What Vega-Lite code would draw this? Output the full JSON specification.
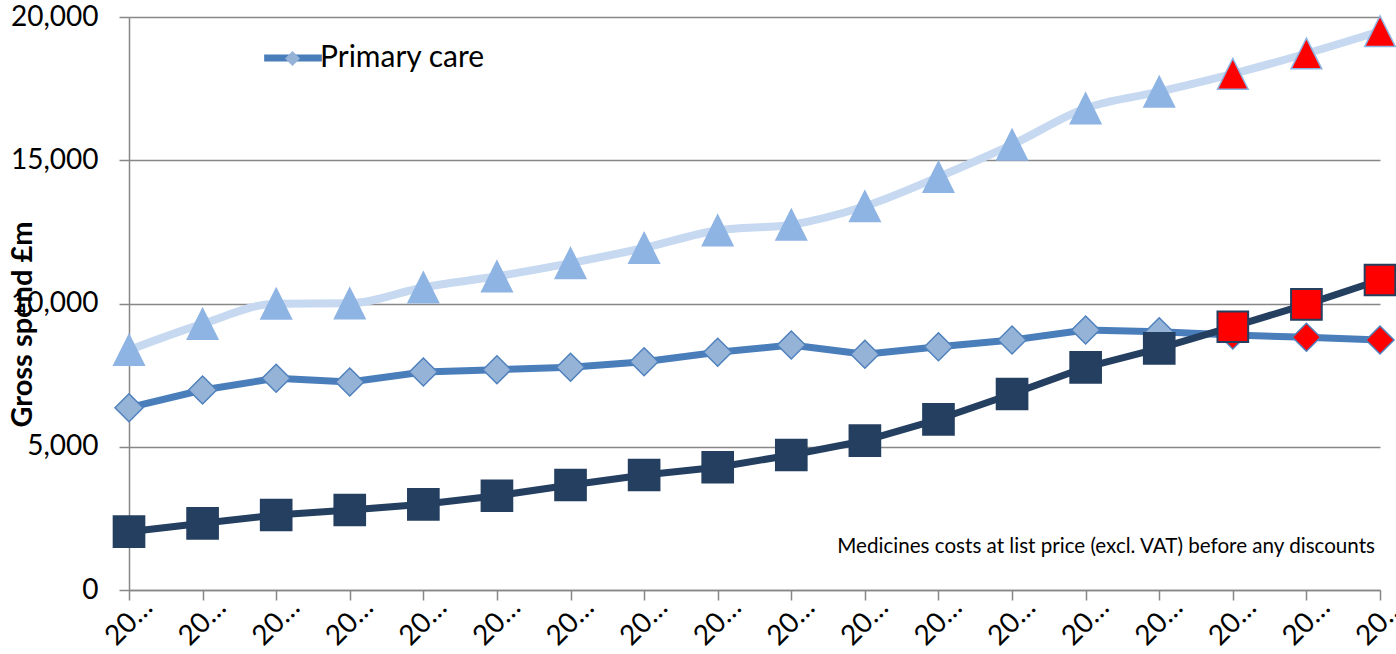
{
  "$schema": "https://vega.github.io/schema/vega-lite/v6.json",
  "width": 1251,
  "height": 573,
  "autosize": {"type": "none"},
  "padding": {"left": 129, "top": 17, "right": 16, "bottom": 64},
  "background": "white",
  "config": {
    "view": {"stroke": null},
    "font": "Lato"
  },
  "data": {
    "values": [
      {"year": "2000/01", "series": "Total", "spend": 8377, "forecast": false},
      {"year": "2001/02", "series": "Total", "spend": 9291, "forecast": false},
      {"year": "2002/03", "series": "Total", "spend": 9993, "forecast": false},
      {"year": "2003/04", "series": "Total", "spend": 10007, "forecast": false},
      {"year": "2004/05", "series": "Total", "spend": 10558, "forecast": false},
      {"year": "2005/06", "series": "Total", "spend": 10949, "forecast": false},
      {"year": "2006/07", "series": "Total", "spend": 11410, "forecast": false},
      {"year": "2007/08", "series": "Total", "spend": 11937, "forecast": false},
      {"year": "2008/09", "series": "Total", "spend": 12555, "forecast": false},
      {"year": "2009/10", "series": "Total", "spend": 12751, "forecast": false},
      {"year": "2010/11", "series": "Total", "spend": 13393, "forecast": false},
      {"year": "2011/12", "series": "Total", "spend": 14415, "forecast": false},
      {"year": "2012/13", "series": "Total", "spend": 15543, "forecast": false},
      {"year": "2013/14", "series": "Total", "spend": 16813, "forecast": false},
      {"year": "2014/15", "series": "Total", "spend": 17393, "forecast": false},
      {"year": "2015/16", "series": "Total", "spend": 18017, "forecast": true},
      {"year": "2016/17", "series": "Total", "spend": 18726, "forecast": true},
      {"year": "2017/18", "series": "Total", "spend": 19504, "forecast": true},
      {"year": "2000/01", "series": "Primary care", "spend": 6363, "forecast": false},
      {"year": "2001/02", "series": "Primary care", "spend": 6981, "forecast": false},
      {"year": "2002/03", "series": "Primary care", "spend": 7389, "forecast": false},
      {"year": "2003/04", "series": "Primary care", "spend": 7260, "forecast": false},
      {"year": "2004/05", "series": "Primary care", "spend": 7609, "forecast": false},
      {"year": "2005/06", "series": "Primary care", "spend": 7689, "forecast": false},
      {"year": "2006/07", "series": "Primary care", "spend": 7773, "forecast": false},
      {"year": "2007/08", "series": "Primary care", "spend": 7969, "forecast": false},
      {"year": "2008/09", "series": "Primary care", "spend": 8297, "forecast": false},
      {"year": "2009/10", "series": "Primary care", "spend": 8551, "forecast": false},
      {"year": "2010/11", "series": "Primary care", "spend": 8227, "forecast": false},
      {"year": "2011/12", "series": "Primary care", "spend": 8492, "forecast": false},
      {"year": "2012/13", "series": "Primary care", "spend": 8726, "forecast": false},
      {"year": "2013/14", "series": "Primary care", "spend": 9075, "forecast": false},
      {"year": "2014/15", "series": "Primary care", "spend": 9016, "forecast": false},
      {"year": "2015/16", "series": "Primary care", "spend": 8900, "forecast": true},
      {"year": "2016/17", "series": "Primary care", "spend": 8820, "forecast": true},
      {"year": "2017/18", "series": "Primary care", "spend": 8726, "forecast": true},
      {"year": "2000/01", "series": "Hospital", "spend": 2035, "forecast": false},
      {"year": "2001/02", "series": "Hospital", "spend": 2328, "forecast": false},
      {"year": "2002/03", "series": "Hospital", "spend": 2618, "forecast": false},
      {"year": "2003/04", "series": "Hospital", "spend": 2792, "forecast": false},
      {"year": "2004/05", "series": "Hospital", "spend": 2991, "forecast": false},
      {"year": "2005/06", "series": "Hospital", "spend": 3291, "forecast": false},
      {"year": "2006/07", "series": "Hospital", "spend": 3665, "forecast": false},
      {"year": "2007/08", "series": "Hospital", "spend": 4014, "forecast": false},
      {"year": "2008/09", "series": "Hospital", "spend": 4283, "forecast": false},
      {"year": "2009/10", "series": "Hospital", "spend": 4712, "forecast": false},
      {"year": "2010/11", "series": "Hospital", "spend": 5211, "forecast": false},
      {"year": "2011/12", "series": "Hospital", "spend": 5958, "forecast": false},
      {"year": "2012/13", "series": "Hospital", "spend": 6841, "forecast": false},
      {"year": "2013/14", "series": "Hospital", "spend": 7773, "forecast": false},
      {"year": "2014/15", "series": "Hospital", "spend": 8436, "forecast": false},
      {"year": "2015/16", "series": "Hospital", "spend": 9190, "forecast": true},
      {"year": "2016/17", "series": "Hospital", "spend": 9972, "forecast": true},
      {"year": "2017/18", "series": "Hospital", "spend": 10820, "forecast": true}
    ]
  },
  "encoding": {
    "x": {
      "field": "year",
      "type": "ordinal",
      "sort": null,
      "scale": {"type": "point", "padding": 0},
      "axis": {
        "title": null,
        "grid": false,
        "domainColor": "#878787",
        "domainWidth": 1.5,
        "tickColor": "#878787",
        "tickWidth": 1.5,
        "tickSize": 10,
        "labelAngle": -45,
        "labelAlign": "center",
        "labelBaseline": "middle",
        "labelPadding": 22,
        "labelFont": "Lato",
        "labelFontSize": 28,
        "labelColor": "#000000",
        "labelLimit": 58,
        "labelOverlap": false
      }
    },
    "y": {
      "field": "spend",
      "type": "quantitative",
      "scale": {"domain": [0, 20000], "nice": false},
      "axis": {
        "values": [0, 5000, 10000, 15000, 20000],
        "format": ",.0f",
        "grid": true,
        "gridColor": "#878787",
        "gridWidth": 1.5,
        "domainColor": "#878787",
        "domainWidth": 1.5,
        "tickColor": "#878787",
        "tickWidth": 1.5,
        "tickSize": 10,
        "labelPadding": 21,
        "labelFont": "Lato",
        "labelFontSize": 28,
        "labelColor": "#000000",
        "title": "Gross spend £m",
        "titleFont": "Lato",
        "titleFontSize": 29,
        "titleFontWeight": "bold",
        "titleColor": "#000000",
        "titleAngle": -90,
        "titleAlign": "center",
        "titleBaseline": "middle",
        "titleX": -107,
        "titleY": 307
      }
    }
  },
  "layer": [
    {
      "transform": [{"filter": "datum.series === 'Total'"}],
      "mark": {"type": "line", "color": "#C6D9F1", "strokeWidth": 8, "interpolate": "monotone", "strokeCap": "round", "strokeJoin": "round"}
    },
    {
      "transform": [{"filter": "datum.series === 'Total'"}],
      "mark": {"type": "point", "filled": true, "shape": "M0,-1L1,1L-1,1Z", "size": 940, "stroke": "#8EB4E3", "strokeWidth": 1.5, "opacity": 1},
      "encoding": {
        "fill": {"condition": {"test": "datum.forecast", "value": "#FF0000"}, "value": "#8EB4E3"}
      }
    },
    {
      "transform": [{"filter": "datum.series === 'Primary care'"}],
      "mark": {"type": "line", "strokeWidth": 7, "strokeCap": "round", "strokeJoin": "round"},
      "encoding": {
        "stroke": {
          "field": "series",
          "type": "nominal",
          "scale": {"range": ["#4A7EBB"]},
          "legend": {
            "orient": "none",
            "legendX": 149,
            "legendY": 26,
            "title": null,
            "padding": 0,
            "symbolType": "M-3.9,-0.01L3.9,-0.01L3.9,0.01L-3.9,0.01Z",
            "symbolSize": 169,
            "symbolStrokeWidth": 7,
            "labelFont": "Lato",
            "labelFontSize": 30,
            "labelColor": "#000000",
            "labelOffset": 12,
            "labelLimit": 400
          }
        }
      }
    },
    {
      "transform": [{"filter": "datum.series === 'Primary care'"}],
      "mark": {"type": "point", "filled": true, "size": 784, "stroke": "#4F81BD", "strokeWidth": 1.5, "opacity": 1},
      "encoding": {
        "shape": {
          "datum": "Primary care marker",
          "scale": {"range": ["diamond"]},
          "legend": {
            "orient": "none",
            "legendX": 155,
            "legendY": 33,
            "title": null,
            "padding": 0,
            "symbolSize": 225,
            "symbolFillColor": "#95B3D7",
            "symbolStrokeColor": "#4F81BD",
            "symbolStrokeWidth": 1.5,
            "labelExpr": "''"
          }
        },
        "fill": {"condition": {"test": "datum.forecast", "value": "#FF0000"}, "value": "#95B3D7"}
      }
    },
    {
      "transform": [{"filter": "datum.series === 'Hospital'"}],
      "mark": {"type": "line", "color": "#243F60", "strokeWidth": 7, "strokeCap": "round", "strokeJoin": "round"}
    },
    {
      "transform": [{"filter": "datum.series === 'Hospital'"}],
      "mark": {"type": "point", "filled": true, "shape": "square", "size": 940, "stroke": "#243F60", "strokeWidth": 2, "opacity": 1},
      "encoding": {
        "fill": {"condition": {"test": "datum.forecast", "value": "#FF0000"}, "value": "#243F60"}
      }
    },
    {
      "transform": [{"filter": "datum.series === 'Hospital' && datum.year === '2017/18'"}],
      "mark": {"type": "text", "align": "right", "baseline": "middle", "font": "Lato", "fontSize": 20.6, "dx": -5, "fill": "#000000", "opacity": 1},
      "encoding": {
        "y": {"datum": 1500},
        "text": {"value": "Medicines costs at list price (excl. VAT) before any discounts"}
      }
    }
  ]
}
